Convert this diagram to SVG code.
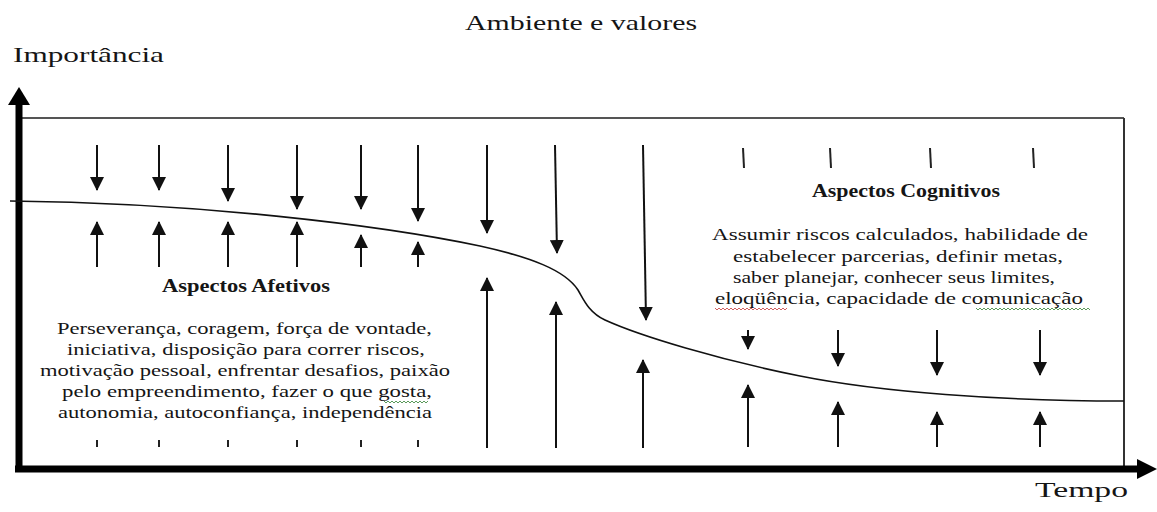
<svg xmlns="http://www.w3.org/2000/svg" width="1157" height="512" viewBox="0 0 1157 512">
<style>
.t{font-family:"Liberation Serif","Times New Roman",serif;fill:#151515;}
.b{font-size:17px;}
.h{font-size:19px;font-weight:bold;}
.ax{font-size:21px;}
.ar{stroke:#111;stroke-width:2;fill:none;marker-end:url(#ah);}
.tk{stroke:#222;stroke-width:2;fill:none;}
.sq{fill:none;stroke-width:1;}
</style>
<defs>
<marker id="ah" markerUnits="userSpaceOnUse" markerWidth="14" markerHeight="14" refX="13" refY="7" orient="auto">
<path d="M0,0 L14,7 L0,14 z" fill="#111"/>
</marker>
</defs>
<rect width="1157" height="512" fill="#fff"/>

<g id="frame">
<line x1="20" y1="118" x2="1124" y2="118" stroke="#555" stroke-width="2"/>
<line x1="1124" y1="118" x2="1124" y2="469" stroke="#333" stroke-width="2"/>
<line x1="19" y1="103" x2="19" y2="472" stroke="#000" stroke-width="7"/>
<polygon points="19,87 30,105 8,105" fill="#000"/>
<line x1="15" y1="469" x2="1138" y2="469" stroke="#000" stroke-width="7"/>
<polygon points="1157,469 1137,459 1137,479" fill="#000"/>
</g>

<g id="labels">
<text class="t ax" x="581" y="30" text-anchor="middle" textLength="232" lengthAdjust="spacingAndGlyphs">Ambiente e valores</text>
<text class="t" x="13" y="62" font-size="22" textLength="151" lengthAdjust="spacingAndGlyphs">Importância</text>
<text class="t" x="1035" y="497" font-size="20" textLength="93" lengthAdjust="spacingAndGlyphs">Tempo</text>
</g>

<g id="curve">
<path d="M10,201 C200,203 380,225 480,246 C530,257 565,270 578,290 C583,298 588,312 605,320 C640,336 720,360 800,376 C880,392 1000,401 1124,401" fill="none" stroke="#111" stroke-width="1.6"/>
</g>

<g id="afetivos">
<text class="t h" x="246" y="292" text-anchor="middle" textLength="168" lengthAdjust="spacingAndGlyphs">Aspectos Afetivos</text>
<text class="t b" x="57" y="334" textLength="375" lengthAdjust="spacingAndGlyphs">Perseverança, coragem, força de vontade,</text>
<text class="t b" x="67" y="355" textLength="358" lengthAdjust="spacingAndGlyphs">iniciativa, disposição para correr riscos,</text>
<text class="t b" x="40" y="376" textLength="410" lengthAdjust="spacingAndGlyphs">motivação pessoal, enfrentar desafios, paixão</text>
<text class="t b" x="62" y="397" textLength="370" lengthAdjust="spacingAndGlyphs">pelo empreendimento, fazer o que gosta,</text>
<text class="t b" x="58" y="418" textLength="374" lengthAdjust="spacingAndGlyphs">autonomia, autoconfiança, independência</text>
<path class="sq" stroke="#5a9a5a" d="M384,401 l2,2 l2,-2 l2,2 l2,-2 l2,2 l2,-2 l2,2 l2,-2 l2,2 l2,-2 l2,2 l2,-2 l2,2 l2,-2 l2,2 l2,-2 l2,2 l2,-2 l2,2 l2,-2 l2,2 l2,-2"/>
</g>

<g id="cognitivos">
<text class="t h" x="906" y="197" text-anchor="middle" textLength="188" lengthAdjust="spacingAndGlyphs">Aspectos Cognitivos</text>
<text class="t b" x="712" y="240" textLength="376" lengthAdjust="spacingAndGlyphs">Assumir riscos calculados, habilidade de</text>
<text class="t b" x="733" y="262" textLength="330" lengthAdjust="spacingAndGlyphs">estabelecer parcerias, definir metas,</text>
<text class="t b" x="733" y="283" textLength="322" lengthAdjust="spacingAndGlyphs">saber planejar, conhecer seus limites,</text>
<text class="t b" x="715" y="304" textLength="368" lengthAdjust="spacingAndGlyphs">eloqüência, capacidade de comunicação</text>
<path class="sq" stroke="#d06060" d="M715,308 l2,2 l2,-2 l2,2 l2,-2 l2,2 l2,-2 l2,2 l2,-2 l2,2 l2,-2 l2,2 l2,-2 l2,2 l2,-2 l2,2 l2,-2 l2,2 l2,-2 l2,2 l2,-2 l2,2 l2,-2 l2,2 l2,-2 l2,2 l2,-2 l2,2 l2,-2 l2,2 l2,-2 l2,2 l2,-2 l2,2 l2,-2 l2,2 l2,-2"/>
<path class="sq" stroke="#5a9a5a" d="M976,308 l2,2 l2,-2 l2,2 l2,-2 l2,2 l2,-2 l2,2 l2,-2 l2,2 l2,-2 l2,2 l2,-2 l2,2 l2,-2 l2,2 l2,-2 l2,2 l2,-2 l2,2 l2,-2 l2,2 l2,-2 l2,2 l2,-2 l2,2 l2,-2 l2,2 l2,-2 l2,2 l2,-2 l2,2 l2,-2 l2,2 l2,-2 l2,2 l2,-2 l2,2 l2,-2 l2,2 l2,-2 l2,2 l2,-2 l2,2 l2,-2 l2,2 l2,-2 l2,2 l2,-2 l2,2 l2,-2 l2,2 l2,-2 l2,2 l2,-2 l2,2 l2,-2 l2,2"/>
</g>

<g id="connectors">
<line class="ar" x1="97" y1="145" x2="97" y2="190"/>
<line class="ar" x1="159" y1="145" x2="159" y2="190"/>
<line class="ar" x1="228" y1="145" x2="228" y2="201"/>
<line class="ar" x1="297" y1="145" x2="297" y2="209"/>
<line class="ar" x1="361" y1="145" x2="361" y2="209"/>
<line class="ar" x1="418" y1="145" x2="418" y2="221"/>
<line class="ar" x1="487" y1="145" x2="487" y2="233"/>
<line class="ar" x1="555" y1="145" x2="557" y2="253"/>
<line class="ar" x1="643" y1="145" x2="646" y2="320"/>
<line class="ar" x1="748" y1="330" x2="748" y2="349"/>
<line class="ar" x1="838" y1="330" x2="838" y2="366"/>
<line class="ar" x1="937" y1="330" x2="937" y2="375"/>
<line class="ar" x1="1040" y1="330" x2="1040" y2="375"/>

<line class="ar" x1="97" y1="267" x2="97" y2="222"/>
<line class="ar" x1="159" y1="267" x2="159" y2="222"/>
<line class="ar" x1="228" y1="267" x2="228" y2="222"/>
<line class="ar" x1="297" y1="267" x2="297" y2="222"/>
<line class="ar" x1="361" y1="267" x2="361" y2="235"/>
<line class="ar" x1="418" y1="267" x2="418" y2="242"/>
<line class="ar" x1="487" y1="448" x2="487" y2="278"/>
<line class="ar" x1="556" y1="448" x2="556" y2="302"/>
<line class="ar" x1="643" y1="448" x2="643" y2="360"/>
<line class="ar" x1="748" y1="447" x2="748" y2="385"/>
<line class="ar" x1="838" y1="447" x2="838" y2="402"/>
<line class="ar" x1="937" y1="447" x2="937" y2="412"/>
<line class="ar" x1="1040" y1="447" x2="1040" y2="412"/>

<line class="tk" x1="97" y1="440" x2="97" y2="447"/>
<line class="tk" x1="159" y1="440" x2="159" y2="447"/>
<line class="tk" x1="228" y1="440" x2="228" y2="447"/>
<line class="tk" x1="297" y1="440" x2="297" y2="447"/>
<line class="tk" x1="361" y1="440" x2="361" y2="447"/>
<line class="tk" x1="418" y1="440" x2="418" y2="447"/>

<line class="tk" x1="743" y1="148" x2="744" y2="168"/>
<line class="tk" x1="830" y1="148" x2="831" y2="168"/>
<line class="tk" x1="930" y1="148" x2="931" y2="168"/>
<line class="tk" x1="1033" y1="148" x2="1034" y2="168"/>
</g>
</svg>
